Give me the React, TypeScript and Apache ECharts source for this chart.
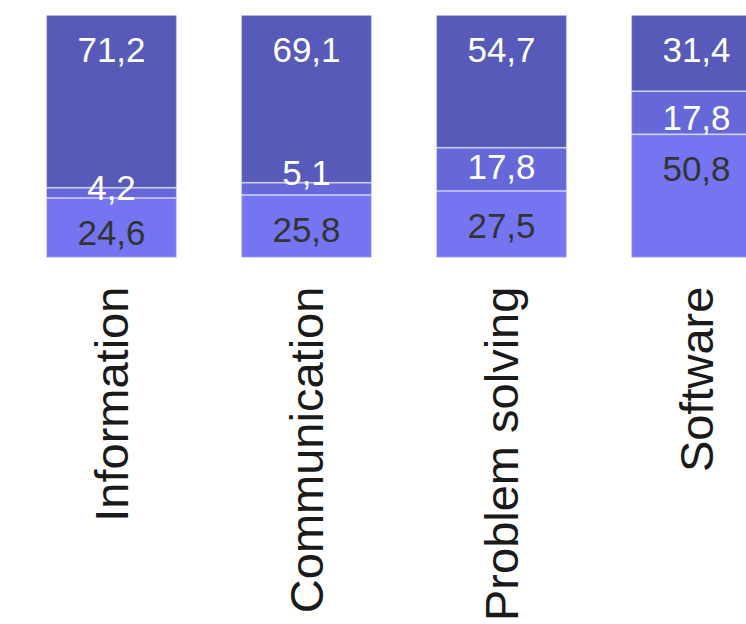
import React, { useEffect, useRef } from "react";
import * as echarts from "echarts";

const categories = ["Information", "Communication", "Problem solving", "Software"];
const bottomValues = [24.6, 25.8, 27.5, 50.8];
const middleValues = [4.2, 5.1, 17.8, 17.8];
const topValues = [71.2, 69.1, 54.7, 31.4];

const FONT = "Liberation Sans, Arial, sans-serif";
const midLabelShift = [-5, -16, -3, 5];

const fmt = (v: number) => v.toFixed(1).replace(".", ",");

export default function App() {
  const ref = useRef<HTMLDivElement>(null);
  useEffect(() => {
    if (!ref.current) return;
    const chart = echarts.init(ref.current, undefined, { renderer: "svg" });
    const border = "rgba(190,190,255,0.45)";
    const labelBase = {
      show: true,
      fontFamily: FONT,
      fontSize: 35,
      formatter: (p: any) => fmt(p.value),
    };
    chart.setOption({
      animation: false,
      grid: { left: 14, right: 0, top: 15, bottom: 363, containLabel: false },
      xAxis: {
        type: "category",
        data: categories,
        axisLine: { show: false },
        axisTick: { show: false },
        axisLabel: {
          rotate: 90,
          margin: 29,
          fontFamily: FONT,
          fontSize: 47,
          color: "#1a1a1a",
          interval: 0,
        },
      },
      yAxis: {
        type: "value",
        min: 0,
        max: 100,
        show: false,
        splitLine: { show: false },
      },
      series: [
        {
          type: "bar",
          stack: "s",
          barCategoryGap: "33%",
          data: bottomValues,
          itemStyle: { color: "#7575f1", borderColor: border, borderWidth: 1 },
          label: { ...labelBase, position: "insideTop", distance: 17, color: "#333333" },
        },
        {
          type: "bar",
          stack: "s",
          barCategoryGap: "33%",
          data: middleValues.map((v, i) => ({
            value: v,
            label: { offset: [0, midLabelShift[i]] },
          })),
          itemStyle: { color: "#6668d9", borderColor: border, borderWidth: 1 },
          label: { ...labelBase, position: "inside", color: "#ffffff" },
        },
        {
          type: "bar",
          stack: "s",
          barCategoryGap: "33%",
          data: topValues,
          itemStyle: { color: "#575ab9", borderColor: border, borderWidth: 1 },
          label: { ...labelBase, position: "insideTop", distance: 17, color: "#ffffff" },
        },
      ],
    });
    return () => chart.dispose();
  }, []);
  return (
    <div style={{ position: "absolute", left: 0, top: 0, width: 746, height: 624, overflow: "hidden", background: "#fff" }}>
      <div ref={ref} style={{ width: 794, height: 624 }} />
    </div>
  );
}
